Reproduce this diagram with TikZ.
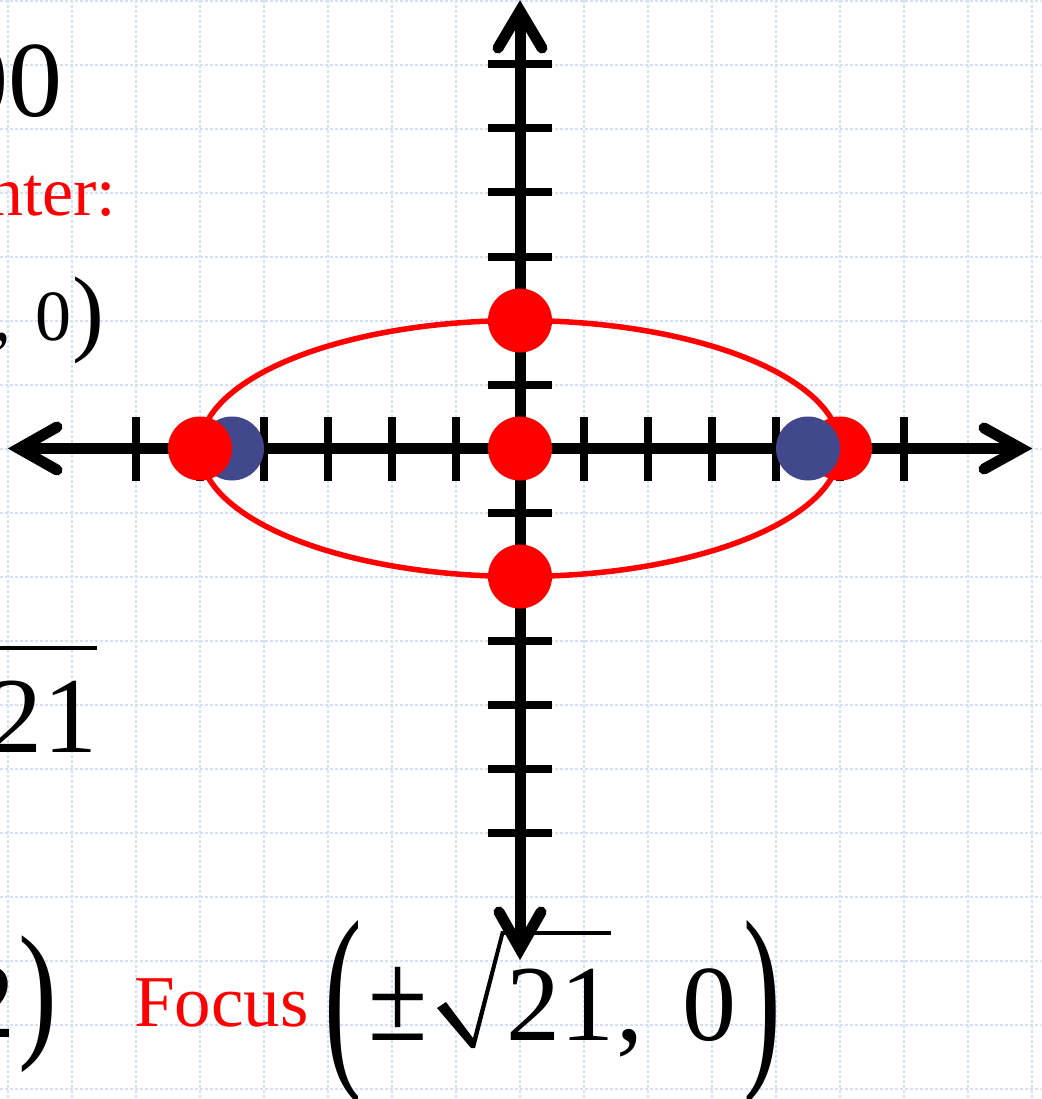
\documentclass[tikz,border=0pt]{standalone}
\usepackage{fontspec}
\setmainfont{Liberation Serif}
\definecolor{gridblue}{RGB}{214,223,250}
\definecolor{focusblue}{RGB}{66,72,140}
\definecolor{pured}{RGB}{255,0,0}
\begin{document}
\begin{tikzpicture}[x=1pt,y=-1pt,
  gridline/.style={draw=gridblue, line width=1.2pt, dash pattern=on 3pt off 2pt},
  axisline/.style={line width=11pt, line cap=butt},
  barb/.style={line width=11pt, line cap=round, line join=miter},
  tickmark/.style={line width=8pt},
  txt/.style={inner sep=0pt, outer sep=0pt, anchor=base west},
  bigtxt/.style={txt, font=\fontsize{108}{120}\selectfont},
  midtxt/.style={txt, font=\fontsize{72}{80}\selectfont},
  redlabel/.style={txt, text=pured},
  reddot/.style={circle, fill=pured, minimum size=64pt, inner sep=0pt},
  bluedot/.style={circle, fill=focusblue, minimum size=64pt, inner sep=0pt},
  curve/.style={draw=pured, line width=5.5pt}
]
\useasboundingbox (0,0) rectangle (1041,1099);
\clip (0,0) rectangle (1041,1099);
\fill[white] (0,0) rectangle (1041,1099);

% background grid
\foreach \i in {0,...,16} \draw[gridline] (8+64*\i,0) -- (8+64*\i,1099);
\foreach \j in {0,...,17} \draw[gridline] (0,1+64*\j) -- (1041,1+64*\j);

% texts on the left
\node[bigtxt] (t00) at (-45,117) {00};
\node[redlabel, font=\fontsize{70}{80}\selectfont] (tcenter) at (-11.9,215) {nter:};
\node[midtxt] (tcomma) at (-6,340) {,};
\node[midtxt] (tzero) at (35.3,340) {0};
\node[txt, font=\fontsize{96}{100}\selectfont] (tparA) at (72.2,343) {)};
\node[bigtxt] (tsq) at (-11,752) {21};
\coordinate (ovA) at (-5,648);
\coordinate (ovB) at (97,648);
\draw[line width=4pt] (ovA) -- (ovB);
\node[bigtxt] (ttwo) at (-38.3,1037) {2};
\node[txt, font=\fontsize{117}{120}\selectfont] (tparB) at (18.6,1040) {\scalebox{1}[1.29]{)}};

% focus formula
\node[redlabel, font=\fontsize{73}{80}\selectfont] (tfocus) at (134,1026) {Focus};
\node[txt, font=\fontsize{113}{120}\selectfont] (tparC) at (324.6,1061) {\scalebox{1}[1.8]{(}};
\node[bigtxt] (tpm) at (368,1040) {\scalebox{1}[1.2]{±}};
\fill (437,1008) -- (446,1002) -- (473,1038) -- (501,931) -- (505,931) -- (475,1048) -- (471,1048) -- cycle;
\coordinate (vinA) at (503,933);
\coordinate (vinB) at (611,933);
\draw[line width=4pt] (vinA) -- (vinB);
\node[bigtxt] (tnum) at (506.8,1040) {21};
\node[bigtxt] (tcommaB) at (616,1040) {,};
\node[bigtxt] (tzeroB) at (682.4,1040) {0};
\node[txt, font=\fontsize{113}{120}\selectfont] (tparD) at (743.7,1061) {\scalebox{1}[1.8]{)}};

% ellipse
\coordinate (O) at (520,448.5);
\draw[curve] (O) ellipse [x radius=320, y radius=128];

% axes
\coordinate (Ltip) at (19,448.5);
\coordinate (Rtip) at (1021,448.5);
\coordinate (Ttip) at (520,11);
\coordinate (Btip) at (520,949);
\coordinate (Lb1) at (57,427);
\coordinate (Lb2) at (57,470);
\coordinate (Rb1) at (984,428);
\coordinate (Rb2) at (984,469);
\coordinate (Tb1) at (498,48);
\coordinate (Tb2) at (542,48);
\coordinate (Bb1) at (499,912);
\coordinate (Bb2) at (541,912);
\draw[axisline] (Ltip) -- (Rtip);
\draw[axisline] (Ttip) -- (Btip);
\draw[barb] (Lb1) -- (Ltip) -- (Lb2);
\draw[barb] (Rb1) -- (Rtip) -- (Rb2);
\draw[barb] (Tb1) -- (Ttip) -- (Tb2);
\draw[barb] (Bb1) -- (Btip) -- (Bb2);
\foreach \k in {1,...,6} {
  \draw[tickmark] (520+64*\k,416.5) -- (520+64*\k,480.5);
  \draw[tickmark] (520-64*\k,416.5) -- (520-64*\k,480.5);
  \draw[tickmark] (488,448.5-64*\k) -- (552,448.5-64*\k);
  \draw[tickmark] (488,448.5+64*\k) -- (552,448.5+64*\k);
}

% points
\node[bluedot] (fL) at (232,448.5) {};
\node[reddot] (vL) at (200,448.5) {};
\node[reddot] (vR) at (840,448.5) {};
\node[bluedot] (fR) at (808,448.5) {};
\node[reddot] (cT) at (520,320.5) {};
\node[reddot] (cB) at (520,576.5) {};
\node[reddot] (cO) at (O) {};
\end{tikzpicture}
\end{document}
